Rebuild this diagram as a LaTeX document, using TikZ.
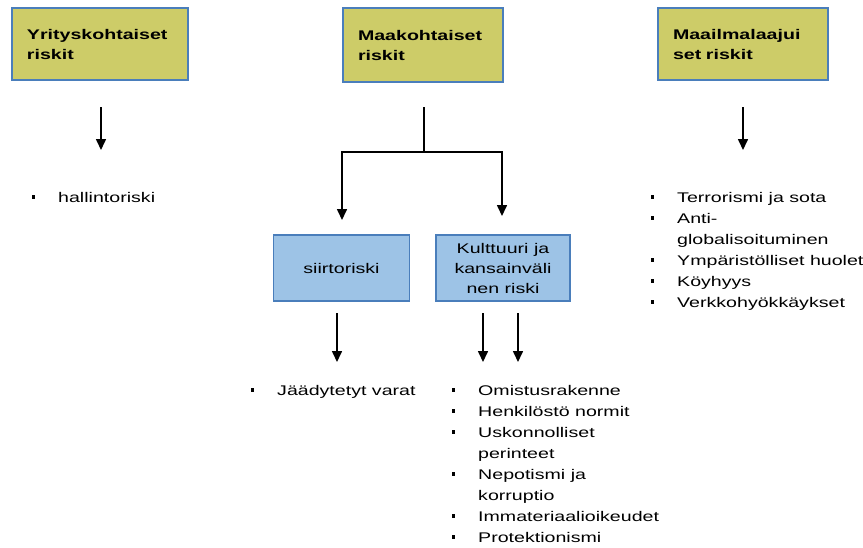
\documentclass[tikz,border=0pt]{standalone}
\usepackage{fontspec}
\setmainfont{Liberation Sans}[FakeStretch=1.4]
\usepackage{xcolor}
\usepackage{tikz}
\usetikzlibrary{positioning,calc,arrows.meta}
\definecolor{riskyellow}{RGB}{205,204,104}
\definecolor{riskblue}{RGB}{157,195,230}
\definecolor{boxedge}{RGB}{74,126,187}
\newcommand{\blt}{\llap{\raisebox{3.5pt}{\rule{3.2pt}{3.2pt}}\hspace{23pt}}}
\tikzset{
    mainbox/.style={draw=boxedge, line width=1.6pt, fill=riskyellow, align=left,
        font=\bfseries\fontsize{14}{20}\selectfont, minimum height=72pt, inner xsep=15pt},
    subbox/.style={draw=boxedge, line width=1.6pt, fill=riskblue, align=center,
        font=\fontsize{14}{20}\selectfont, minimum height=66pt},
    item/.style={anchor=base west, inner sep=0pt, font=\fontsize{14}{17}\selectfont},
    arr/.style={-{Triangle[width=10pt,length=11pt]}, line width=1.6pt},
}

\begin{document}
\begin{tikzpicture}[x=1pt, y=-1pt]
    \useasboundingbox (0,0) rectangle (863,547);
    \node [mainbox, text width=146pt] (firm) at (100,44) {Yrityskohtaiset\\riskit};
    \node [mainbox, text width=130pt, minimum height=74pt] (country) at (423,45) {Maakohtaiset\\riskit};
    \node [mainbox, text width=140pt] (global) at (743,44) {Maailmalaajui\\set riskit};
    \node [subbox, minimum width=136pt] (transfer) at (341.5,268) {siirtoriski};
    \node [subbox, minimum width=134pt] (culture) at (503,268) {Kulttuuri ja\\kansainväli\\nen riski};

    \coordinate (firm-a) at (101,107);
    \coordinate (firm-b) at (101,150);
    \coordinate (global-a) at (743,107);
    \coordinate (global-b) at (743,150);
    \coordinate (country-a) at (424,107);
    \coordinate (split) at (424,152);
    \coordinate (transfer-b) at (342,220);
    \coordinate (culture-b) at (502,216);
    \coordinate (transfer-c) at (337,313);
    \coordinate (transfer-d) at (337,362);
    \coordinate (culture-c) at (483,313);
    \coordinate (culture-d) at (483,362);
    \coordinate (culture-e) at (518,313);
    \coordinate (culture-f) at (518,362);

    \draw [arr] (firm-a) -- (firm-b);
    \draw [arr] (global-a) -- (global-b);
    \draw [line width=1.6pt] (country-a) -- (split);
    \draw [arr] (split) -| (transfer-b);
    \draw [arr] (split) -| (culture-b);
    \draw [arr] (transfer-c) -- (transfer-d);
    \draw [arr] (culture-c) -- (culture-d);
    \draw [arr] (culture-e) -- (culture-f);

    \node [item] (admin) at (58,202) {\blt hallintoriski};
    \node [item] (frozen) at (277,395) {\blt Jäädytetyt varat};
    \foreach \t [count=\i from 0] in {\blt Omistusrakenne, \blt Henkilöstö normit,
        \blt Uskonnolliset, perinteet, \blt Nepotismi ja, korruptio,
        \blt Immateriaalioikeudet, \blt Protektionismi}
        \node [item] (cult-\i) at (478,{395+21*\i}) {\t};
    \foreach \t [count=\i from 0] in {\blt Terrorismi ja sota, \blt Anti-,
        globalisoituminen, \blt Ympäristölliset huolet, \blt Köyhyys,
        \blt Verkkohyökkäykset}
        \node [item] (world-\i) at (677,{202+21*\i}) {\t};
\end{tikzpicture}
\end{document}
